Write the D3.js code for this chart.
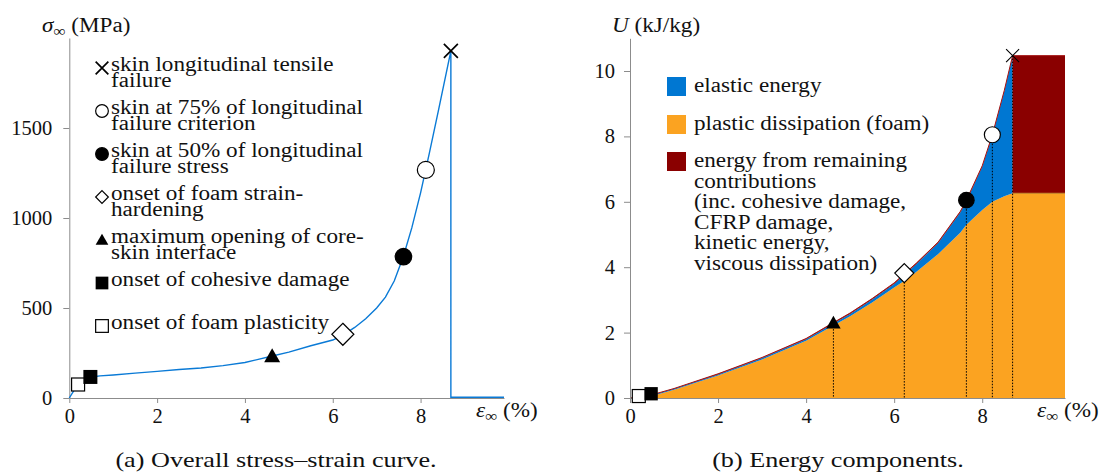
<!DOCTYPE html>
<html>
<head>
<meta charset="utf-8">
<script src="https://cdn.jsdelivr.net/npm/d3@7"></script>
<style>
body { margin: 0; background: #fff; }
text { font-family: "Liberation Serif", "Times New Roman", serif; fill: #111; }
</style>
</head>
<body>
<script>
// ---- data: (a) overall stress-strain curve ----
var strainA = [0, 0.1, 0.2, 0.3, 0.4, 0.5, 0.7, 1, 1.5, 2, 2.5, 3, 3.5, 4, 4.6, 5, 5.5, 6, 6.25, 6.5, 6.75, 7, 7.2, 7.4, 7.6, 7.8, 8.0, 8.2, 8.4, 8.69, 8.69, 9.9];
var stressA = [0, 40, 75, 100, 112, 117, 123, 128, 138, 148, 158, 167, 180, 197, 232, 255, 290, 322, 352, 392, 440, 500, 560, 650, 780, 945, 1140, 1360, 1590, 1928, 4, 4];

// ---- data: (b) energy components (stacked) ----
var strainB  = [0, 0.2, 0.5, 1, 2, 3, 4, 4.6, 5, 5.5, 6, 6.25, 6.5, 7, 7.5, 7.64, 8, 8.23, 8.5, 8.69, 8.69, 9.88];
var plastic  = [0, 0.01, 0.06, 0.25, 0.69, 1.18, 1.75, 2.2, 2.5, 2.92, 3.38, 3.6, 3.85, 4.4, 5.05, 5.3, 5.75, 6.0, 6.17, 6.26, 6.26, 6.26];
var elastic  = [0, 0, 0.03, 0.03, 0.03, 0.04, 0.05, 0.06, 0.07, 0.09, 0.11, 0.19, 0.24, 0.34, 0.62, 0.72, 1.32, 2.02, 3.2, 4.18, 0, 0];
var remain   = [0, 0.01, 0.01, 0.01, 0.02, 0.02, 0.02, 0.03, 0.03, 0.03, 0.03, 0.03, 0.03, 0.03, 0.03, 0.03, 0.03, 0.03, 0.03, 0.03, 4.21, 4.21];

// ---- event markers ----
var markerTypes   = ["squareOpen", "square", "triangle", "diamond", "circle", "circleOpen", "times"];
var markerStrainA = [0.2, 0.48, 4.62, 6.23, 7.61, 8.12, 8.69];
var markerStressA = [75, 117, 232, 354, 785, 1267, 1928];
var markerStrainB = [0.2, 0.48, 4.62, 6.23, 7.64, 8.23, 8.69];
var markerEnergyB = [0.06, 0.13, 2.29, 3.82, 6.05, 8.05, 10.47];

var legendA = [
  ["times", "skin longitudinal tensile", "failure"],
  ["circleOpen", "skin at 75% of longitudinal", "failure criterion"],
  ["circle", "skin at 50% of longitudinal", "failure stress"],
  ["diamond", "onset of foam strain-", "hardening"],
  ["triangle", "maximum opening of core-", "skin interface"],
  ["square", "onset of cohesive damage"],
  ["squareOpen", "onset of foam plasticity"]
];
var legendB = [
  ["elastic energy"],
  ["plastic dissipation (foam)"],
  ["energy from remaining", "contributions", "(inc. cohesive damage,", "CFRP damage,", "kinetic energy,", "viscous dissipation)"]
];

var ticksA = [0, 500, 1000, 1500];
var ticksB = [0, 2, 4, 6, 8, 10];
var ticksX = [0, 2, 4, 6, 8];

var colElastic = "#0077d2", colPlastic = "#fba321", colRemain = "#8a0000", colLine = "#0a7ad6";
var axisCol = "#8c8c8c";
var stretch = 1.13;   // widen Times-like glyphs toward Computer Modern proportions

var svg = d3.select("body").append("svg")
  .attr("width", 1102).attr("height", 473);

// text with horizontal stretch; lines = array of strings, dyLine = line spacing
function label(x, y, lines, size, dyLine, anchor) {
  var t = svg.append("text")
    .attr("transform", "translate(" + x + "," + y + ") scale(" + stretch + ",1)")
    .attr("font-size", size)
    .attr("text-anchor", anchor || "start");
  lines.forEach(function (s, k) {
    t.append("tspan").attr("x", 0).attr("y", k * dyLine).text(s);
  });
  return t;
}

function marker(g, type, x, y, s) {
  var h = s / 2;
  if (type == "times") {
    g.append("path").attr("d", "M" + (x - h) + "," + (y - h) + "L" + (x + h) + "," + (y + h) + "M" + (x - h) + "," + (y + h) + "L" + (x + h) + "," + (y - h))
      .attr("stroke", "#000").attr("stroke-width", 1.7).attr("fill", "none");
  } else if (type == "circle" || type == "circleOpen") {
    g.append("circle").attr("cx", x).attr("cy", y).attr("r", h)
      .attr("fill", type == "circle" ? "#000" : "#fff")
      .attr("stroke", "#000").attr("stroke-width", 1.2);
  } else if (type == "diamond") {
    g.append("path").attr("d", "M" + x + "," + (y - h) + "L" + (x + h) + "," + y + "L" + x + "," + (y + h) + "L" + (x - h) + "," + y + "Z")
      .attr("fill", "#fff").attr("stroke", "#000").attr("stroke-width", 1.2);
  } else if (type == "triangle") {
    g.append("path").attr("d", "M" + x + "," + (y - h) + "L" + (x + h) + "," + (y + h * 0.75) + "L" + (x - h) + "," + (y + h * 0.75) + "Z")
      .attr("fill", "#000");
  } else {
    g.append("rect").attr("x", x - h).attr("y", y - h).attr("width", s).attr("height", s)
      .attr("fill", type == "square" ? "#000" : "#fff")
      .attr("stroke", "#000").attr("stroke-width", type == "square" ? 0 : 1.2);
  }
}

function styleAxis(g) {
  g.selectAll("path, line").attr("stroke", axisCol).attr("stroke-width", 1);
  g.selectAll("text").attr("font-family", "Liberation Serif").attr("font-size", 20.5).attr("fill", "#111");
}

// e.g. sigma_inf (MPa)
function axisLabel(x, y, sym, unit, sub) {
  var t = svg.append("text")
    .attr("transform", "translate(" + x + "," + y + ") scale(" + stretch + ",1)")
    .attr("font-size", 20.5);
  t.append("tspan").attr("font-style", "italic").text(sym);
  if (sub) t.append("tspan").attr("font-size", 15).attr("dy", 4).text("∞");
  t.append("tspan").attr("dy", sub ? -4 : 0).text(" " + unit);
}

// ================= (a) stress-strain =================
var xA = d3.scaleLinear().domain([0, 9.9]).range([69.3, 504]);
var yA = d3.scaleLinear().domain([0, 2000]).range([398, 38]);

var gA = svg.append("g");
gA.append("g").attr("transform", "translate(0,398)")
  .call(d3.axisBottom(xA).tickValues(ticksX).tickSize(5).tickSizeOuter(0).tickPadding(5).tickFormat(d3.format("d")))
  .call(styleAxis);
gA.append("g").attr("transform", "translate(69.3,0)")
  .call(d3.axisLeft(yA).tickValues(ticksA).tickSize(6).tickSizeOuter(0).tickPadding(11).tickFormat(d3.format("d")))
  .call(styleAxis);

gA.append("path").datum(stressA).attr("d", d3.line()
    .x(function (d, i) { return xA(strainA[i]); })
    .y(function (d) { return yA(d); }))
  .attr("fill", "none").attr("stroke", colLine).attr("stroke-width", 1.4);

markerTypes.forEach(function (t, i) {
  var s = { times: 14, circleOpen: 17, circle: 16.5, diamond: 22, triangle: 16, square: 14, squareOpen: 13 }[t];
  marker(gA, t, xA(markerStrainA[i]), yA(markerStressA[i]), s);
});

var baseA = [71, 114, 157, 200, 243, 286, 329];
legendA.forEach(function (e, i) {
  marker(gA, e[0], 102, baseA[i] - 3, 12.7);
  label(111, baseA[i], e.slice(1), 20.5, 16);
});

axisLabel(42, 32, "σ", "(MPa)", true);
axisLabel(476, 417, "ε", "(%)", true);
label(276, 467, ["(a) Overall stress–strain curve."], 22, 0, "middle")
  .attr("transform", "translate(276,467) scale(1.19,1)");

// ================= (b) energy components =================
var xB = d3.scaleLinear().domain([0, 9.88]).range([630, 1065]);
var yB = d3.scaleLinear().domain([0, 11]).range([398, 38.3]);

var rows = strainB.map(function (e, i) { return { e: e, plastic: plastic[i], elastic: elastic[i], remain: remain[i] }; });
var stack = d3.stack().keys(["plastic", "elastic", "remain"])(rows);
var colors = { plastic: colPlastic, elastic: colElastic, remain: colRemain };
var area = d3.area().x(function (d) { return xB(d.data.e); }).y0(function (d) { return yB(d[0]); }).y1(function (d) { return yB(d[1]); });

var gB = svg.append("g");
gB.selectAll("path.layer").data(stack).enter().append("path").attr("class", "layer")
  .attr("d", area).attr("fill", function (d) { return colors[d.key]; });

// outlines of stacked layers
gB.append("path").datum(stack[2]).attr("d", d3.line().x(function (d) { return xB(d.data.e); }).y(function (d) { return yB(d[1]); }))
  .attr("fill", "none").attr("stroke", "#a31414").attr("stroke-width", 1);
gB.append("path").datum(stack[0].filter(function (d) { return d.data.e >= 8.69; }))
  .attr("d", d3.line().x(function (d) { return xB(d.data.e); }).y(function (d) { return yB(d[1]); }))
  .attr("fill", "none").attr("stroke", "#c8862a").attr("stroke-width", 1.2);

// dotted drop lines
markerStrainB.slice(2).forEach(function (e, i) {
  gB.append("line").attr("x1", xB(e)).attr("x2", xB(e)).attr("y1", yB(markerEnergyB[i + 2])).attr("y2", yB(0))
    .attr("stroke", "#000").attr("stroke-width", 1).attr("stroke-dasharray", "1.5,1.5");
});

gB.append("g").attr("transform", "translate(0,398)")
  .call(d3.axisBottom(xB).tickValues(ticksX).tickSize(5).tickSizeOuter(0).tickPadding(5).tickFormat(d3.format("d")))
  .call(styleAxis);
gB.append("g").attr("transform", "translate(630,0)")
  .call(d3.axisLeft(yB).tickValues(ticksB).tickSize(6).tickSizeOuter(0).tickPadding(9).tickFormat(d3.format("d")))
  .call(styleAxis);

markerTypes.forEach(function (t, i) {
  var s = { times: 13, circleOpen: 16, circle: 15.5, diamond: 19, triangle: 14.5, square: 13.3, squareOpen: 13 }[t];
  var g2 = gB.append("g");
  marker(g2, t, xB(markerStrainB[i]), yB(markerEnergyB[i]), s);
  if (t == "times") g2.select("path").attr("stroke-width", 1.1);
});

var legendKeys = ["elastic", "plastic", "remain"];
var baseB = [92, 130, 167];
legendB.forEach(function (e, i) {
  gB.append("rect").attr("x", 667).attr("y", baseB[i] - 15).attr("width", 19).attr("height", 19)
    .attr("fill", colors[legendKeys[i]]);
  label(694, baseB[i], e, 20.5, 20.6);
});

axisLabel(612, 32, "U", "(kJ/kg)", false);
axisLabel(1037, 417, "ε", "(%)", true);
label(838, 467, ["(b) Energy components."], 22, 0, "middle")
  .attr("transform", "translate(838,467) scale(1.19,1)");
</script>
</body>
</html>
